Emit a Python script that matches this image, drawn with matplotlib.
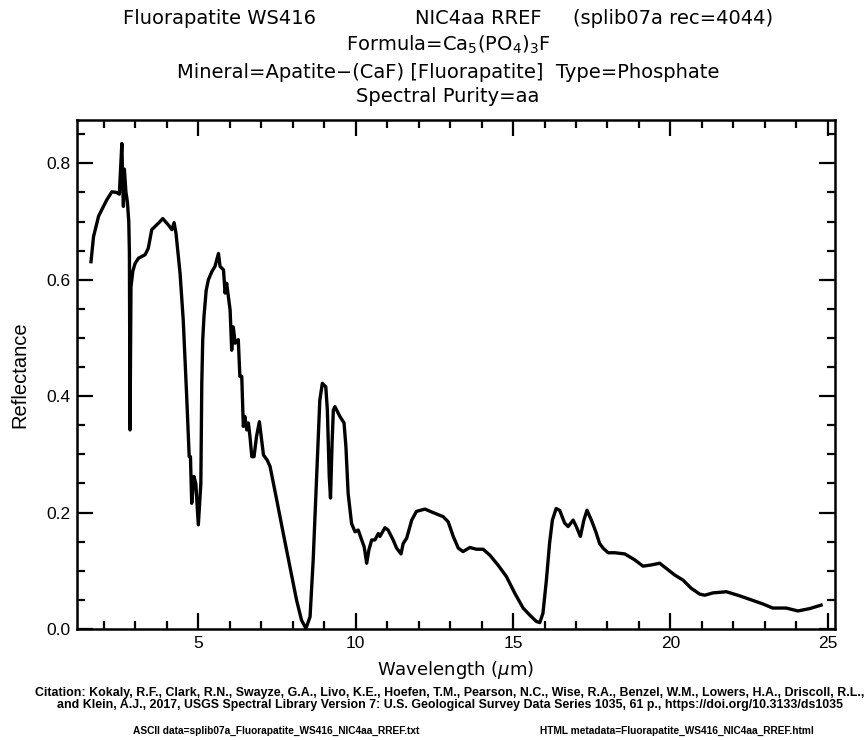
import matplotlib
matplotlib.use("Agg")
import matplotlib.pyplot as plt
from matplotlib.ticker import MultipleLocator

wavelength = [1.59, 1.67, 1.83, 1.93, 2.09, 2.25, 2.40, 2.49, 2.53, 2.57, 2.60, 2.62, 2.65, 2.67, 2.70,
              2.73, 2.75, 2.79, 2.81, 2.83, 2.86, 2.92, 2.99, 3.10, 3.31, 3.41, 3.52, 3.73, 3.87,
              4.05, 4.16, 4.23, 4.29, 4.42, 4.52, 4.63, 4.71, 4.75, 4.79, 4.86, 4.92, 5.00,
              5.08, 5.11, 5.14, 5.18, 5.25, 5.32, 5.43, 5.53, 5.64, 5.69, 5.80, 5.85, 5.90,
              6.01, 6.06, 6.11, 6.17, 6.27, 6.32, 6.38, 6.43, 6.48, 6.54, 6.59, 6.64, 6.70,
              6.77, 6.85, 6.94, 7.01, 7.07, 7.19, 7.28, 7.49, 7.70, 7.91, 8.12, 8.28, 8.42,
              8.55, 8.65, 8.76, 8.86, 8.94, 9.05, 9.10, 9.16, 9.20, 9.25, 9.29, 9.34, 9.50,
              9.63, 9.69, 9.76, 9.87, 9.98, 10.08, 10.19, 10.27, 10.35, 10.42, 10.51, 10.61,
              10.72, 10.77, 10.93, 11.03, 11.19, 11.30, 11.44, 11.51, 11.62, 11.78, 11.93,
              12.20, 12.46, 12.78, 12.94, 13.10, 13.26, 13.41, 13.63, 13.84, 14.05, 14.26,
              14.52, 14.79, 15.06, 15.32, 15.53, 15.74, 15.85, 15.95, 16.06, 16.16, 16.25,
              16.37, 16.48, 16.64, 16.75, 16.91, 17.01, 17.14, 17.25, 17.35, 17.49, 17.63,
              17.75, 17.86, 18.02, 18.23, 18.55, 18.86, 19.13, 19.39, 19.66, 19.87, 20.13,
              20.40, 20.66, 20.93, 21.09, 21.35, 21.78, 22.20, 22.62, 22.94, 23.25, 23.68,
              24.05, 24.42, 24.79]
reflectance = [0.631, 0.674, 0.709, 0.720, 0.737, 0.751, 0.750, 0.747, 0.790, 0.834, 0.760, 0.726, 0.790, 0.774, 0.750,
               0.740, 0.731, 0.700, 0.646, 0.342, 0.588, 0.615, 0.628, 0.637, 0.643, 0.654, 0.686, 0.697, 0.705,
               0.694, 0.686, 0.698, 0.680, 0.611, 0.531, 0.400, 0.296, 0.296, 0.216, 0.262, 0.250, 0.179,
               0.250, 0.422, 0.497, 0.537, 0.582, 0.600, 0.614, 0.623, 0.645, 0.623, 0.617, 0.577, 0.594,
               0.548, 0.479, 0.519, 0.491, 0.497, 0.434, 0.434, 0.348, 0.365, 0.342, 0.354, 0.331, 0.296,
               0.296, 0.331, 0.356, 0.325, 0.299, 0.290, 0.279, 0.222, 0.164, 0.107, 0.050, 0.015, 0.001,
               0.021, 0.119, 0.262, 0.393, 0.422, 0.416, 0.376, 0.262, 0.225, 0.319, 0.376, 0.382, 0.365,
               0.354, 0.313, 0.233, 0.181, 0.167, 0.170, 0.153, 0.141, 0.113, 0.136, 0.153, 0.153,
               0.164, 0.159, 0.174, 0.170, 0.153, 0.139, 0.129, 0.147, 0.156, 0.187, 0.202,
               0.206, 0.200, 0.193, 0.184, 0.159, 0.139, 0.133, 0.140, 0.137, 0.137, 0.127,
               0.110, 0.090, 0.061, 0.036, 0.024, 0.013, 0.011, 0.027, 0.084, 0.147, 0.187,
               0.207, 0.204, 0.182, 0.176, 0.187, 0.176, 0.159, 0.187, 0.204, 0.187, 0.167,
               0.147, 0.139, 0.131, 0.131, 0.129, 0.119, 0.108, 0.110, 0.113, 0.104, 0.093,
               0.084, 0.070, 0.060, 0.058, 0.062, 0.064, 0.057, 0.049, 0.043, 0.036, 0.036,
               0.031, 0.035, 0.041]

title_line1 = ["Fluorapatite WS416", "NIC4aa RREF", "(splib07a rec=4044)"]
title_formula = r"Formula=Ca$_5$(PO$_4$)$_3$F"
title_mineral = "Mineral=Apatite\u2212(CaF) [Fluorapatite]  Type=Phosphate"
title_purity = "Spectral Purity=aa"
x_label = r"Wavelength ($\mu$m)"
y_label = "Reflectance"
citation = ("Citation: Kokaly, R.F., Clark, R.N., Swayze, G.A., Livo, K.E., Hoefen, T.M., Pearson, N.C., Wise, R.A., Benzel, W.M., Lowers, H.A., Driscoll, R.L.,\n"
            "and Klein, A.J., 2017, USGS Spectral Library Version 7: U.S. Geological Survey Data Series 1035, 61 p., https://doi.org/10.3133/ds1035")
ascii_note = "ASCII data=splib07a_Fluorapatite_WS416_NIC4aa_RREF.txt"
html_note = "HTML metadata=Fluorapatite_WS416_NIC4aa_RREF.html"

plt.rcParams['font.family'] = ['DejaVu Sans']

fig = plt.figure(figsize=(8.67, 7.40), dpi=100)
ax = fig.add_axes([77/867, 111/740, (835-77)/867, (629-120)/740])

ax.plot(wavelength, reflectance, color='black', lw=2.4, solid_joinstyle='round')

ax.set_xlim(1.145, 25.23)
ax.set_ylim(0.0, 0.8744)
ax.xaxis.set_major_locator(MultipleLocator(5))
ax.xaxis.set_minor_locator(MultipleLocator(1))
ax.yaxis.set_major_locator(MultipleLocator(0.2))
ax.yaxis.set_minor_locator(MultipleLocator(0.05))
ax.yaxis.set_major_formatter(matplotlib.ticker.FormatStrFormatter('%.1f'))
ax.tick_params(which='both', direction='in', top=True, right=True, width=1.6, colors='black')
ax.tick_params(which='major', length=11.5, labelsize=12.5, pad=5)
ax.tick_params(which='minor', length=6)
for lab in ax.get_xticklabels() + ax.get_yticklabels():
    lab.set_family('Liberation Sans')
for s in ax.spines.values():
    s.set_linewidth(1.8)

ax.set_xlabel(x_label, fontsize=13, labelpad=6)
ax.set_ylabel(y_label, fontsize=14.5, family='Liberation Sans', labelpad=12)

tfs = 14
cx = 448 / 867
fig.text(220/867, 1 - 19/740, title_line1[0], ha='center', va='center', fontsize=tfs)
fig.text(478/867, 1 - 19/740, title_line1[1], ha='center', va='center', fontsize=tfs)
fig.text(673/867, 1 - 19/740, title_line1[2], ha='center', va='center', fontsize=tfs)
fig.text(cx, 1 - 45/740, title_formula, ha='center', va='center', fontsize=tfs)
fig.text(cx, 1 - 72/740, title_mineral, ha='center', va='center', fontsize=tfs)
fig.text(cx, 1 - 96/740, title_purity, ha='center', va='center', fontsize=tfs)

fig.text(450/867, 1 - 699/740, citation, ha='center', va='center', fontsize=8.9,
         family='Liberation Sans', weight='bold', linespacing=0.95)
fig.text(133/867, 1 - 731/740, ascii_note, ha='left', va='center', fontsize=7.3,
         family='Liberation Sans', weight='bold')
fig.text(540/867, 1 - 731/740, html_note, ha='left', va='center', fontsize=7.3,
         family='Liberation Sans', weight='bold')

fig.savefig('out.png', dpi=100, facecolor='white')
